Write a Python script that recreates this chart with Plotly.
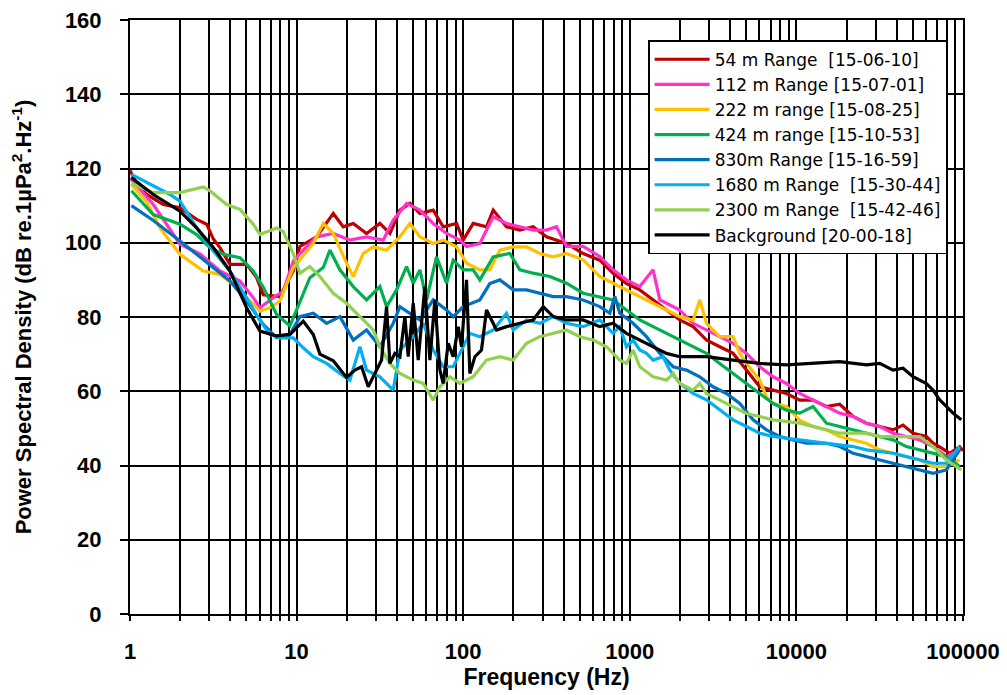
import plotly.graph_objects as go

# ---------------- data ----------------
red_f = [1.0, 1.096, 1.259, 1.585, 1.995, 2.512, 2.884, 3.162, 3.467, 3.981, 5.012, 5.754, 6.310, 7.943, 9.550,
         10.47, 13.18, 16.60, 19.05, 21.88, 26.30, 31.62, 36.31, 41.69, 47.86, 54.95, 66.07, 75.86, 91.20, 100,
         114.8, 138.0, 151.4, 182.0, 218.8, 263.0, 316.2, 416.9, 524.8, 660.7, 794.3, 955.0, 1148, 1380, 1660,
         1995, 2399, 2884, 3467, 4169, 5012, 6026, 7244, 8710, 10470, 12590, 15140, 18200, 21880, 26300, 31620,
         38020, 43650, 50120, 60260, 66070, 72440, 83180, 95500, 100000]
red_v = [119.5, 116, 113, 110.3, 109.4, 106.3, 105, 101, 98.7, 94.2, 94.2, 90.6, 86, 85.5, 92.4,
         99, 101.6, 107.9, 104.3, 105.2, 102.5, 105.2, 102.5, 108.8, 110.6, 107.9, 108.8, 104.3, 105.2, 100.7,
         105.2, 104.3, 108.8, 104.3, 103.4, 104.3, 101.6, 99.8, 97.1, 95.3, 91.8, 89, 87.3, 84.6, 81.9,
         79.2, 77.4, 73.8, 72, 70.2, 65.7, 61.2, 60.3, 59.4, 57.6, 57.6, 55.9, 56.5, 53.2, 51.4, 50.5,
         49.6, 50.9, 48.7, 47.8, 46, 45, 43.3, 45, 44]

pink_f = [1.0, 1.380, 1.995, 2.630, 3.467, 4.571, 5.495, 6.026, 7.244, 8.318, 9.550, 10.47, 13.18, 16.60, 20.89,
          26.30, 33.11, 38.02, 45.71, 54.95, 66.07, 79.43, 95.50, 104.7, 125.9, 151.4, 182.0, 218.8, 263.0, 316.2,
          363.1, 416.9, 524.8, 660.7, 794.3, 955.0, 1148, 1380, 1514, 1660, 1995, 2399, 2884, 3467, 4169,
          5012, 6026, 7244, 8710, 10470, 12590, 15140, 18200, 21880, 26300, 31620, 38020, 45710, 54950, 66070,
          79430, 95500]
pink_v = [117.5, 110.3, 99.6, 97, 92.4, 89.7, 85.2, 82.5, 85.2, 87, 95, 97.1, 101.6, 102.5, 100.7,
          101.6, 100.7, 106.1, 110.6, 108.8, 105.2, 102.5, 100.7, 99, 99.8, 107, 105.2, 104.3, 103.4, 103.4,
          104.3, 99, 99, 96.3, 92.7, 90, 88.2, 92.7, 84.6, 83.7, 81.9, 78.3, 76.5, 74.7, 72.9,
          70.2, 66.6, 63.9, 62.1, 59.4, 57.6, 55.9, 54.1, 53.2, 51.4, 50.5, 48.7, 47.8, 46.9, 45.1,
          42.4, 44.2]

yellow_f = [1.02, 1.259, 1.514, 1.995, 2.754, 3.467, 4.365, 5.248, 6.026, 6.918, 7.943, 9.550, 10.47, 12.59, 14.45,
            16.60, 19.95, 21.88, 25.12, 28.84, 34.67, 41.69, 47.86, 54.95, 66.07, 75.86, 91.20, 104.7, 125.9, 144.5,
            166.0, 199.5, 239.9, 288.4, 346.7, 416.9, 524.8, 660.7, 794.3, 955.0, 1148, 1380, 1660, 1995, 2399,
            2630, 2884, 3467, 4169, 4571, 5012, 6026, 6607, 7244, 8710, 10470, 12590, 15140, 18200, 21880,
            26300, 31620, 38020, 45710, 54950, 66070, 79430, 95500]
yellow_v = [115.7, 111, 104, 96.9, 92.4, 91.5, 88, 84.3, 81.6, 82.5, 84.3, 93.3, 95.4, 99.8, 105.2,
            102.5, 94.5, 90.9, 97.1, 98.9, 98, 101.6, 105.2, 101.6, 99.8, 100.7, 98.9, 94.5, 92.7, 92.7,
            98, 98.9, 98.9, 97.1, 96.2, 97.1, 95.4, 90.9, 89.1, 87.3, 85.5, 83.7, 81.9, 80.1, 79.2,
            84.6, 78.3, 74.7, 74.7, 70.2, 67.5, 63, 58.5, 56.7, 55.9, 52.2, 50.5, 49.6, 47.8, 46.9,
            46, 44.2, 43.3, 42.4, 41.5, 39.7, 39.7, 41.5]

green_f = [1.02, 1.380, 1.995, 2.512, 3.020, 3.631, 4.571, 5.495, 6.310, 7.586, 9.120, 10.47, 12.02, 14.45, 15.85,
           18.20, 21.88, 26.30, 31.62, 34.67, 39.81, 45.71, 50.12, 54.95, 60.26, 69.18, 79.43, 87.10, 100, 114.8,
           125.9, 151.4, 190.5, 218.8, 263.0, 331.1, 416.9, 524.8, 660.7, 794.3, 955.0, 1148, 1380, 1660, 1995,
           2399, 2884, 3467, 4169, 5012, 6026, 7244, 8710, 10470, 12590, 15140, 18200, 21880, 26300, 31620,
           38020, 45710, 54950, 66070, 79430, 95500]
green_v = [114, 107.6, 105, 102.2, 98.7, 96.9, 96, 92.4, 88, 80.7, 77.6, 84, 90.6, 93.3, 98,
           92.7, 88.2, 84.6, 88.2, 82.8, 87.3, 93.6, 89.1, 92.7, 84.6, 96.2, 89.1, 95.3, 92.7, 92.7,
           90, 96.2, 97.1, 92.7, 91.8, 90.9, 89.1, 86.4, 85.5, 84.6, 81.9, 79.2, 77.4, 75.6, 73.8,
           72, 70.2, 67.5, 64.8, 62.1, 59.4, 56.7, 54.9, 54.1, 55.9, 51.4, 50.5, 49.6, 48.7, 47.8,
           46.9, 45.1, 44.2, 43.3, 42.4, 39.7]

blue_f = [1.02, 1.380, 1.995, 2.512, 3.162, 3.981, 5.012, 6.310, 7.586, 9.120, 10.47, 12.59, 15.14, 18.20, 21.88,
          26.30, 31.62, 38.02, 41.69, 47.86, 54.95, 66.07, 79.43, 87.10, 100, 125.9, 144.5, 166.0, 199.5, 239.9,
          288.4, 346.7, 416.9, 524.8, 660.7, 758.6, 812.8, 871.0, 1047, 1259, 1514, 1820, 2188, 2630, 3162,
          3802, 4571, 5495, 6607, 7943, 9550, 11480, 15140, 18200, 21880, 26300, 31620, 38020, 45710, 54950,
          66070, 79430, 95500]
blue_v = [110, 106, 100.5, 96.9, 93.3, 89.7, 84.3, 78, 74.4, 75.3, 80.1, 81, 78.3, 80.1, 73.8,
          76.5, 72, 78.3, 82.8, 81, 79.2, 84.6, 81.9, 80.1, 82.8, 84.6, 89, 90, 87.3, 87.3,
          86.4, 85.5, 85.5, 84.6, 82.8, 81, 85.5, 81, 78.3, 74.7, 70.2, 66.6, 65.7, 63.9, 61.2,
          59.4, 56.7, 52.3, 49.6, 47.8, 46.9, 46, 46, 45.1, 43.3, 42.4, 41.5, 40.6, 39.7, 38.8,
          37.9, 38.8, 44.2]

cyan_f = [1.02, 1.380, 1.738, 1.995, 2.512, 3.162, 3.981, 5.012, 6.026, 6.918, 7.943, 9.550, 10.96, 12.59, 15.14,
          18.20, 20.89, 23.99, 26.30, 31.62, 38.02, 41.69, 50.12, 57.54, 66.07, 75.86, 87.10, 95.50, 109.6, 125.9,
          151.4, 182.0, 199.5, 239.9, 288.4, 346.7, 416.9, 524.8, 660.7, 794.3, 871.0, 955.0, 1047, 1148, 1259,
          1380, 1585, 1738, 1995, 2399, 2884, 3467, 4169, 5012, 6026, 7244, 10470, 15140, 21880, 26300,
          38020, 45710, 54950, 66070, 79430, 95500]
cyan_v = [118.4, 115.2, 113, 111.2, 104, 97.8, 92.4, 85.2, 79, 75.3, 74.4, 74.4, 71.7, 69.3, 67.5,
          64.8, 63, 72, 65.7, 63.9, 60.3, 71.1, 74.7, 78.3, 71.1, 66.6, 66.6, 70.2, 75.6, 74.7,
          76.5, 81, 76.5, 79.2, 78.3, 80.1, 78.3, 77.4, 79.2, 75.6, 77.4, 72, 73.8, 71.1, 70.2,
          68.4, 69.3, 65.7, 62.1, 59.4, 57.7, 55, 52.3, 50.5, 48.7, 47.8, 46.9, 46, 45.1, 44.2,
          43.3, 42.4, 41.5, 40.6, 40.6, 45.1]

lgreen_f = [1.02, 1.380, 1.995, 2.754, 3.020, 3.802, 4.571, 5.495, 6.026, 7.586, 8.318, 9.550, 10.47, 12.02, 13.80,
            16.60, 19.95, 23.99, 28.84, 31.62, 36.31, 41.69, 50.12, 57.54, 66.07, 72.44, 83.18, 95.50, 114.8, 138.0,
            166.0, 199.5, 239.9, 288.4, 346.7, 416.9, 501.2, 602.6, 724.4, 871.0, 955.0, 1047, 1148, 1380, 1660,
            1820, 1995, 2399, 2630, 2884, 3467, 4169, 5012, 6026, 7244, 10470, 12590, 15140, 18200, 26300,
            31620, 54950, 66070, 79430, 97720]
lgreen_v = [116, 113.5, 113.5, 115, 114, 110.3, 109, 105, 102.2, 104, 103, 97, 91.8, 93.6, 90.9,
            86.4, 83.7, 80.1, 76.5, 72, 67.5, 64.8, 63, 62.1, 57.6, 61.2, 63.9, 62.1, 63.9, 68.4,
            69.3, 68.4, 72.9, 74.7, 75.6, 76.5, 74.7, 73.8, 72, 68.4, 67.5, 71.1, 66.6, 63.9, 63,
            64.8, 62.1, 60.3, 62.1, 59.4, 57.6, 55.9, 54, 53.2, 52.3, 51.4, 50.5, 49.6, 48.7, 48.7,
            47.8, 47.8, 45.1, 41.5, 38.8]

black_f = [1.02, 1.380, 1.995, 2.512, 3.162, 3.981, 5.012, 6.026, 7.586, 9.120, 10.96, 12.59, 13.80, 16.60, 19.95,
           22.39, 24.55, 26.92, 29.51, 32.36, 34.67, 36.31, 38.90, 41.69, 44.67, 46.77, 50.12, 53.70, 58.88, 63.10,
           67.61, 72.44, 75.86, 81.28, 87.10, 93.33, 97.72, 104.7, 109.6, 117.5, 128.8, 138.0, 158.5, 182.0, 218.8,
           263.0, 302.0, 346.7, 416.9, 524.8, 660.7, 794.3, 955.0, 1148, 1380, 1660, 1995, 2884, 4169, 6026,
           8710, 12590, 18200, 26300, 31620, 38020, 43650, 50120, 60260, 66070, 72440, 79430, 87100, 97720]
black_v = [117.5, 113, 108.5, 104, 98.7, 92.4, 82.5, 76.2, 74.9, 75.3, 78.9, 75.3, 70, 68.2, 63.7,
           65.7, 66.6, 61.2, 64.8, 68.4, 82.8, 67.5, 70.2, 69.3, 80.1, 69.3, 83.7, 68.4, 88.2, 68.4,
           84.6, 65.7, 62.1, 72.9, 69.3, 77.4, 72, 90, 64.8, 69.3, 71.1, 81.9, 76.5, 77.4, 78.3,
           79.2, 82.8, 80.1, 79.2, 79.2, 77.4, 78.3, 75.6, 73.8, 72, 70.2, 69.3, 69.3, 68.4, 67.5,
           67.1, 67.5, 68, 67.1, 67.5, 65.7, 66.2, 63.9, 62.1, 60.3, 57.7, 55.9, 54.1, 52.3]

series_names = ["54 m Range&nbsp; [15-06-10]", "112 m Range [15-07-01]", "222 m range [15-08-25]",
                "424 m range [15-10-53]", "830m Range [15-16-59]", "1680 m Range&nbsp; [15-30-44]",
                "2300 m Range&nbsp; [15-42-46]", "Background [20-00-18]"]
series_colors = ["#C00000", "#FF33CC", "#FFC000", "#00B050", "#0070C0", "#00B0F0", "#92D050", "#000000"]

x_tick_vals = [1, 10, 100, 1000, 10000, 100000]
x_tick_text = ["1", "10", "100", "1000", "10000", "100000"]
x_minor_vals = [m * 10 ** d for d in range(5) for m in range(2, 10)]

# ---------------- figure ----------------
FONT = "Arial, 'Liberation Sans', sans-serif"
LEGEND_FONT = "'DejaVu Sans', Arial, sans-serif"
fig = go.Figure()
xs = [red_f, pink_f, yellow_f, green_f, blue_f, cyan_f, lgreen_f, black_f]
ys = [red_v, pink_v, yellow_v, green_v, blue_v, cyan_v, lgreen_v, black_v]
for i in range(8):
    fig.add_trace(go.Scatter(x=xs[i], y=ys[i], mode="lines", name=series_names[i],
                             line=dict(color=series_colors[i], width=3.2)))

# the page adds an 8px body margin, so the figure is sized to fit inside the window
fig.update_layout(
    width=999, height=687,
    paper_bgcolor="white", plot_bgcolor="white",
    margin=dict(l=122, r=44, t=12, b=81, autoexpand=False),
    font=dict(family=FONT, color="black"),
    showlegend=True,
    legend=dict(x=0.622, y=0.966, xanchor="left", yanchor="top",
                bgcolor="white", bordercolor="black", borderwidth=1.5,
                font=dict(family=LEGEND_FONT, size=17, color="black"),
                itemwidth=55,
                traceorder="normal"),
)
fig.update_xaxes(
    type="log", range=[0, 5],
    tickvals=x_tick_vals, ticktext=x_tick_text,
    tickfont=dict(family=FONT, size=22, color="black", weight="bold"),
    ticklabelstandoff=12, ticklabeloverflow="allow",
    showgrid=True, gridcolor="black", gridwidth=2,
    ticks="outside", ticklen=5, tickwidth=2, tickcolor="black",
    minor=dict(tickvals=x_minor_vals, showgrid=True, gridcolor="black", gridwidth=2,
               ticks="outside", ticklen=5, tickwidth=2, tickcolor="black"),
    showline=True, linecolor="black", linewidth=2, mirror=True,
    title=dict(text="Frequency (Hz)", font=dict(family=FONT, size=23, color="black", weight="bold"), standoff=4),
    zeroline=False,
)
fig.update_yaxes(
    range=[0, 160], dtick=20, tick0=0,
    tickfont=dict(family=FONT, size=22, color="black", weight="bold"),
    ticklabelstandoff=14, ticklabeloverflow="allow",
    showgrid=True, gridcolor="black", gridwidth=2,
    ticks="outside", ticklen=8, tickwidth=2, tickcolor="black",
    showline=True, linecolor="black", linewidth=2, mirror=True,
    title=dict(text="Power Spectral Density (dB re.1µPa<sup>2</sup>.Hz<sup>-1</sup>)",
               font=dict(family=FONT, size=22, color="black", weight="bold"), standoff=30),
    zeroline=False,
)

fig.write_html("out.html")
